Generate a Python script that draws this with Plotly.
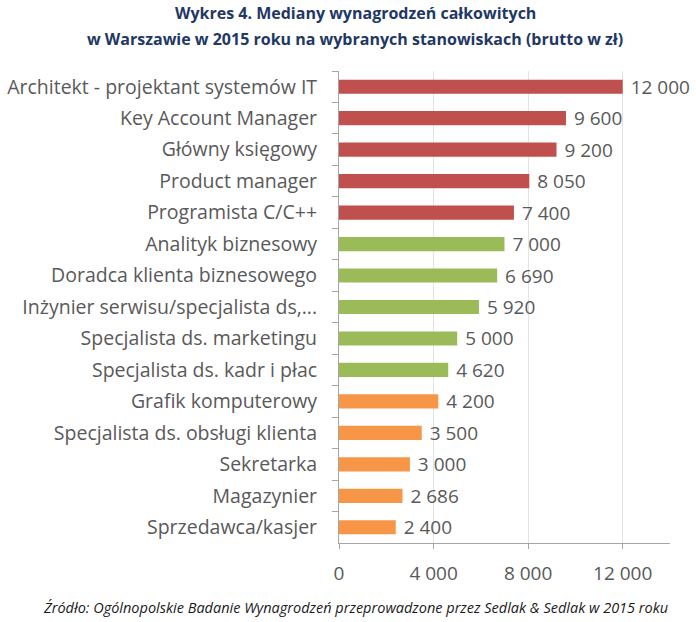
import plotly.graph_objects as go

categories = [
    "Architekt - projektant systemów IT",
    "Key Account Manager",
    "Główny księgowy",
    "Product manager",
    "Programista C/C++",
    "Analityk biznesowy",
    "Doradca klienta biznesowego",
    "Inżynier serwisu/specjalista ds,...",
    "Specjalista ds. marketingu",
    "Specjalista ds. kadr i płac",
    "Grafik komputerowy",
    "Specjalista ds. obsługi klienta",
    "Sekretarka",
    "Magazynier",
    "Sprzedawca/kasjer",
]
values = [12000, 9600, 9200, 8050, 7400, 7000, 6690, 5920, 5000, 4620, 4200, 3500, 3000, 2686, 2400]
groups = ["high"] * 5 + ["mid"] * 5 + ["low"] * 5
group_colors = {"high": "#C0504D", "mid": "#9BBB59", "low": "#F79646"}
x_ticks = [0, 4000, 8000, 12000]
title_lines = [
    "Wykres 4. Mediany wynagrodzeń całkowitych",
    "w Warszawie w 2015 roku na wybranych stanowiskach (brutto w zł)",
]
source_text = "Źródło: Ogólnopolskie Badanie Wynagrodzeń przeprowadzone przez Sedlak &amp; Sedlak w 2015 roku"

W, H = 696, 622
ML, MR, MT, MB = 339, 26, 71, 79
PW, PH = W - ML - MR, H - MT - MB


def px_x(x):
    return (x - ML) / PW


def px_y(y):
    return (H - MB - y) / PH


fig = go.Figure(go.Bar(
    x=values,
    y=categories,
    orientation="h",
    marker=dict(color=[group_colors[g] for g in groups], line=dict(width=0)),
    width=0.45,
    text=values,
    texttemplate="\u00a0%{x:,}",
    textposition="outside",
    constraintext="none",
    cliponaxis=False,
    textfont=dict(family="Open Sans", size=19, color="#595959"),
    hoverinfo="skip",
))

annotations = []
for i, line in enumerate(title_lines):
    annotations.append(dict(
        text="<b>" + line + "</b>",
        x=px_x(355), xref="paper", xanchor="center",
        y=px_y(13 + 26 * i), yref="paper", yanchor="middle", showarrow=False,
        font=dict(family="Open Sans", size=16, color="#1F3864"),
    ))
annotations.append(dict(
    text="<i>" + source_text + "</i>",
    x=px_x(355), xref="paper", xanchor="center",
    y=px_y(607), yref="paper", yanchor="middle", showarrow=False,
    font=dict(family="Open Sans", size=14.5, color="#1a1a1a"),
))

fig.update_layout(
    width=W, height=H,
    margin=dict(l=ML, r=MR, t=MT, b=MB, autoexpand=False),
    paper_bgcolor="white", plot_bgcolor="white",
    separators=", ",
    showlegend=False,
    font=dict(family="Open Sans", color="#595959"),
    xaxis=dict(
        range=[0, 14000], tickvals=x_ticks, tickformat=",",
        showgrid=True, gridcolor="#E3E3E3", gridwidth=1,
        zeroline=False, showline=True, linecolor="#A6A6A6", linewidth=1,
        ticks="outside", ticklen=5, tickcolor="#A6A6A6",
        ticklabelstandoff=8, automargin=False,
        tickfont=dict(family="Open Sans", size=19, color="#595959"),
    ),
    yaxis=dict(
        autorange="reversed", showgrid=False, zeroline=False,
        showline=True, linecolor="#A6A6A6", linewidth=1,
        ticks="outside", ticklen=6, tickcolor="#A6A6A6", tickson="boundaries",
        ticklabelstandoff=17, automargin=False,
        tickfont=dict(family="Open Sans", size=19.5, color="#595959"),
    ),
    annotations=annotations,
)

fig.write_html("out.html")
